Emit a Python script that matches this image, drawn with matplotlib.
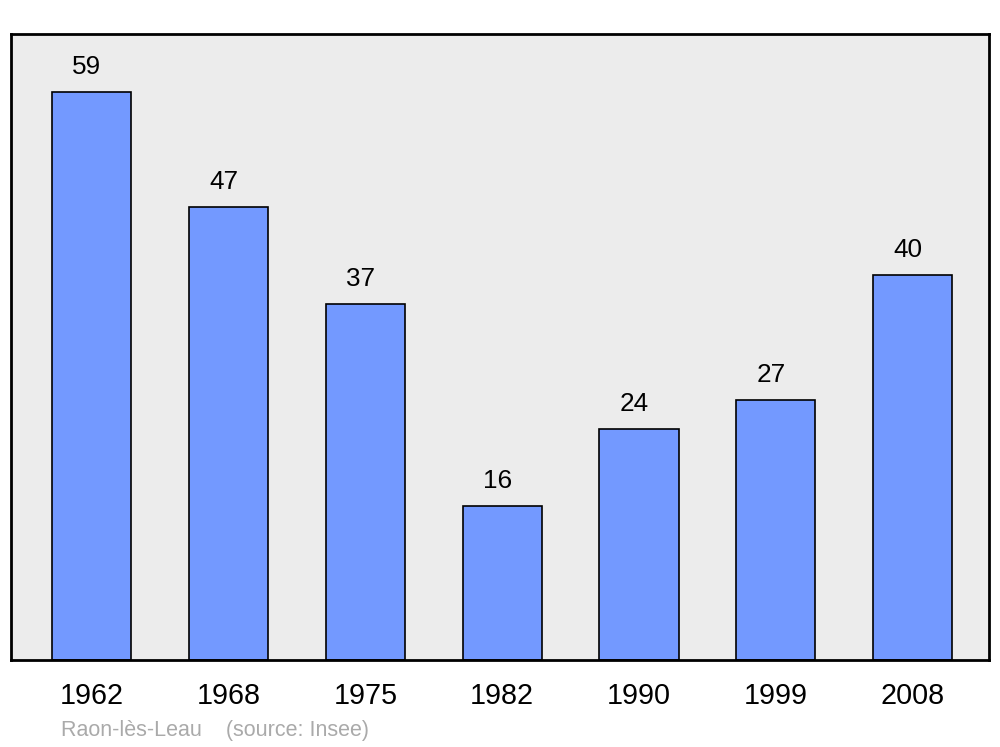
import matplotlib
matplotlib.use('Agg')
import matplotlib.pyplot as plt

plt.rcParams['font.family'] = ['Liberation Sans', 'DejaVu Sans']

# Data
years = ['1962', '1968', '1975', '1982', '1990', '1999', '2008']
population = [59, 47, 37, 16, 24, 27, 40]
source_text = 'Raon-lès-Leau    (source: Insee)'

fig = plt.figure(figsize=(10, 7.47), dpi=100)
ax = fig.add_axes([0.011, 0.1165, 0.978, 0.838])
ax.set_facecolor('#ececec')

x = range(len(years))
bars = ax.bar(x, population, width=0.578, color='#7399ff',
              edgecolor='black', linewidth=1.2, zorder=2)

for xi, v in zip(x, population):
    ax.annotate(str(v), xy=(xi, v), xytext=(-5, 13), textcoords='offset pixels',
                ha='center', va='bottom', fontsize=18.8)

ax.set_xlim(-0.592, 6.559)
ax.set_ylim(0, 65)
ax.set_yticks([])
ax.set_xticks(list(x))
ax.set_xticklabels(years, fontsize=20.7)
ax.tick_params(axis='x', length=0, pad=16)
for s in ax.spines.values():
    s.set_linewidth(2)

fig.text(0.061, 0.0225, source_text, color='#aaaaaa', fontsize=15.5,
         ha='left', va='center')

fig.savefig('out.png', dpi=100)
